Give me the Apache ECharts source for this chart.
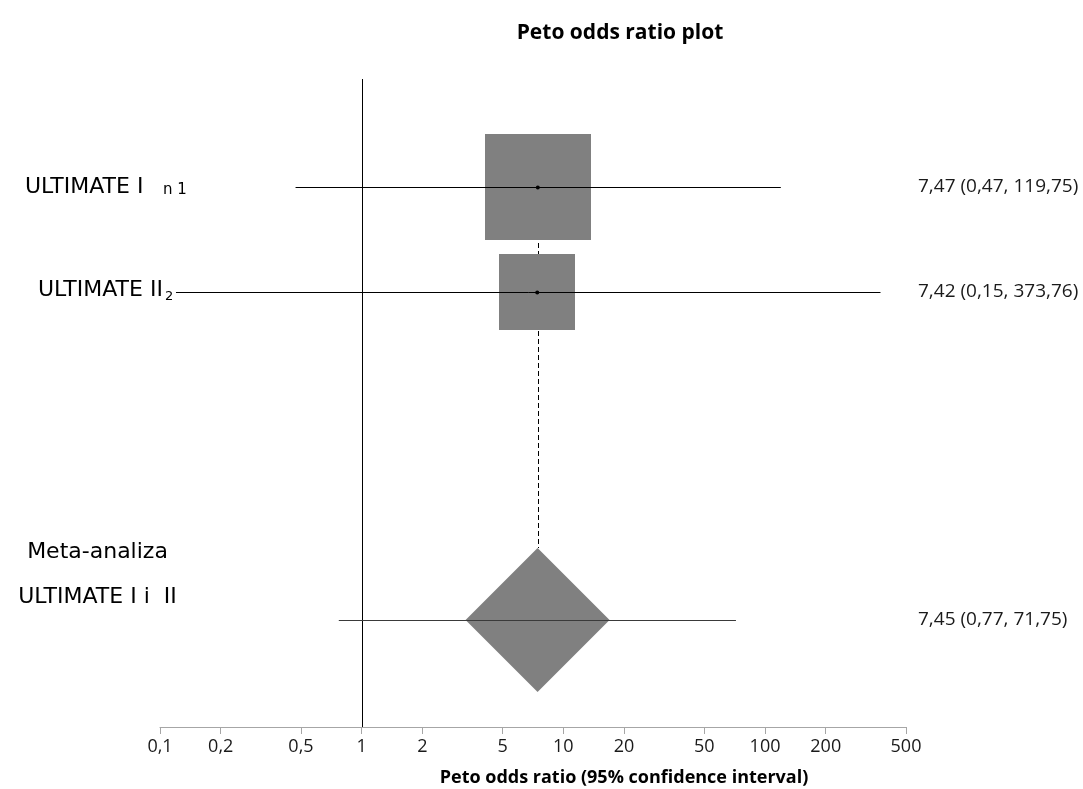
<!DOCTYPE html>
<html><head><meta charset="utf-8">
<script src="https://cdn.jsdelivr.net/npm/echarts@6/dist/echarts.min.js"></script>
<style>html,body{margin:0;padding:0;background:#fff}#c{width:1083px;height:789px}</style>
</head><body><div id="c"></div>
<script>
// ---- data ----
const studies = ['ULTIMATE I', 'ULTIMATE II', 'Meta-analiza\nULTIMATE I i  II'];
const subscripts = ['n 1', '2', ''];
const estimates = [7.47, 7.42, 7.45];
const ciLower = [0.47, 0.12, 0.77];
const ciUpper = [119.75, 373.76, 71.75];
const weights = [66, 34, 100];
const isPooled = [0, 0, 1];
const resultLabels = ['7,47 (0,47, 119,75)', '7,42 (0,15, 373,76)', '7,45 (0,77, 71,75)'];
const tickValues = [0.1, 0.2, 0.5, 1, 2, 5, 10, 20, 50, 100, 200, 500];
const tickLabels = ['0,1', '0,2', '0,5', '1', '2', '5', '10', '20', '50', '100', '200', '500'];

// ---- layout (not data) ----
const rowPos = [16.54, 32.77, 83.46];       // vertical slot of each row (% of plot height)
const labelX = [25, 38, 97.5];
const subX = [163, 165, 0];
const resultX = 918;
const diamondHalf = 72;
const squareScale = 13.05;

const L = v => Math.log10(v);
const logTicks = tickValues.map(L);
const sans = 'DejaVu Sans';
const num = 'Open Sans';

const chart = echarts.init(document.getElementById('c'), null, {renderer: 'canvas', width: 1083, height: 789});

const studyData = estimates.map((e, i) => [L(e), rowPos[i], L(ciLower[i]), L(ciUpper[i]), weights[i], isPooled[i]]);

function crisp(v) { return Math.round(v) + 0.5; }

function renderStudy(params, api) {
  const i = params.dataIndex;
  const est = api.value(0), pos = api.value(1), lo = api.value(2), hi = api.value(3), w = api.value(4), pooled = api.value(5);
  const c = api.coord([est, pos]);
  const l = api.coord([lo, pos]);
  const h = api.coord([hi, pos]);
  const y = crisp(c[1]);
  const children = [];
  if (pooled) {
    const r = diamondHalf;
    children.push({type: 'polygon', shape: {points: [[c[0], c[1] - r], [c[0] + r, c[1]], [c[0], c[1] + r], [c[0] - r, c[1]]]}, style: {fill: '#808080'}});
    children.push({type: 'line', shape: {x1: l[0], y1: y, x2: h[0], y2: y}, style: {stroke: '#3a3a3a', lineWidth: 1}});
  } else {
    const s = Math.sqrt(w) * squareScale;
    children.push({type: 'rect', shape: {x: Math.round(c[0] - s / 2), y: Math.round(c[1] - s / 2), width: Math.round(s), height: Math.round(s)}, style: {fill: '#808080'}});
    children.push({type: 'line', shape: {x1: l[0], y1: y, x2: h[0], y2: y}, style: {stroke: '#000', lineWidth: 1}});
    children.push({type: 'circle', shape: {cx: c[0], cy: y, r: 2}, style: {fill: '#000'}});
  }
  children.push({type: 'text', style: {x: resultX, y: c[1], text: resultLabels[i], fill: '#1a1a1a', font: '19px "' + num + '"', verticalAlign: 'middle', align: 'left'}});
  return {type: 'group', children};
}

function renderGuides(params, api) {
  const pooledEst = api.value(0);
  const top = api.coord([pooledEst, rowPos[0]]);
  const bot = api.coord([pooledEst, rowPos[2]]);
  const x = crisp(top[0]);
  const r0 = api.coord([L(1), 0]);
  const r1 = api.coord([L(1), 100]);
  const rx = crisp(r0[0]);
  return {type: 'group', children: [
    {type: 'line', shape: {x1: rx, y1: r0[1] - 1, x2: rx, y2: r1[1]}, style: {stroke: '#000', lineWidth: 1}},
    {type: 'line', shape: {x1: x, y1: top[1], x2: x, y2: bot[1] - diamondHalf}, style: {stroke: '#000', lineWidth: 1, lineDash: [5, 3]}}
  ]};
}

const graphics = [
  {type: 'text', x: 620, y: 33, style: {text: 'Peto odds ratio plot', font: 'bold 21px "' + num + '"', fill: '#000', align: 'center', verticalAlign: 'middle'}},
  {type: 'text', x: 624, y: 778, style: {text: 'Peto odds ratio (95% confidence interval)', font: 'bold 18px "' + num + '"', fill: '#000', align: 'center', verticalAlign: 'middle'}},
  {type: 'text', x: labelX[0], y: 187, style: {text: studies[0], font: '22px "' + sans + '"', fill: '#000', align: 'left', verticalAlign: 'middle'}},
  {type: 'text', x: subX[0], y: 190, style: {text: subscripts[0], font: '15px "' + sans + '"', fill: '#000', align: 'left', verticalAlign: 'middle'}},
  {type: 'text', x: labelX[1], y: 290, style: {text: studies[1], font: '22px "' + sans + '"', fill: '#000', align: 'left', verticalAlign: 'middle'}},
  {type: 'text', x: subX[1], y: 297, style: {text: subscripts[1], font: '13px "' + sans + '"', fill: '#000', align: 'left', verticalAlign: 'middle'}},
  {type: 'text', x: labelX[2], y: 574.5, style: {text: studies[2], font: '22px "' + sans + '"', lineHeight: 45, fill: '#000', align: 'center', verticalAlign: 'middle'}}
];

chart.setOption({
  animation: false,
  backgroundColor: '#fff',
  grid: {left: 160, right: 177, top: 80, bottom: 62, containLabel: false},
  xAxis: {
    type: 'value', position: 'bottom', min: logTicks[0], max: logTicks[logTicks.length - 1],
    splitLine: {show: false},
    axisLine: {onZero: false, lineStyle: {color: '#a6a6a6', width: 1}},
    axisTick: {customValues: logTicks, inside: false, length: 7, lineStyle: {color: '#a6a6a6'}},
    axisLabel: {
      customValues: logTicks, margin: 11, fontSize: 18, fontFamily: num, color: '#1a1a1a',
      formatter: v => {
        let best = 0;
        logTicks.forEach((t, k) => { if (Math.abs(t - v) < Math.abs(logTicks[best] - v)) best = k; });
        return tickLabels[best];
      }
    }
  },
  yAxis: {type: 'value', min: 0, max: 100, inverse: true, show: false},
  series: [
    {type: 'custom', name: 'guides', renderItem: renderGuides, data: [[L(estimates[2])]], z: 1, silent: true, clip: false},
    {type: 'custom', name: 'studies', renderItem: renderStudy, data: studyData, z: 2, silent: true, clip: false}
  ],
  graphic: graphics
});
</script></body></html>
